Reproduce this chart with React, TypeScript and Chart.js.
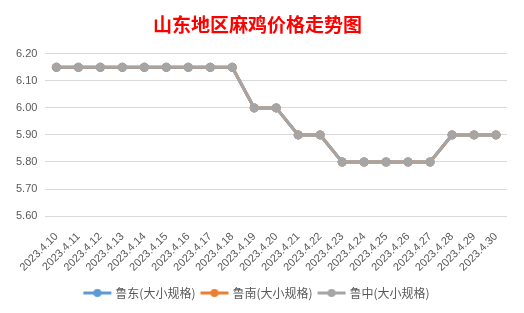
import React, { useEffect, useRef } from "react";
import { Chart, registerables } from "chart.js";

Chart.register(...registerables);

const categories = [
  "2023.4.10", "2023.4.11", "2023.4.12", "2023.4.13", "2023.4.14", "2023.4.15", "2023.4.16",
  "2023.4.17", "2023.4.18", "2023.4.19", "2023.4.20", "2023.4.21", "2023.4.22", "2023.4.23",
  "2023.4.24", "2023.4.25", "2023.4.26", "2023.4.27", "2023.4.28", "2023.4.29", "2023.4.30",
];
const ludong = [6.15, 6.15, 6.15, 6.15, 6.15, 6.15, 6.15, 6.15, 6.15, 6.0, 6.0, 5.9, 5.9, 5.8, 5.8, 5.8, 5.8, 5.8, 5.9, 5.9, 5.9];
const lunan = [6.15, 6.15, 6.15, 6.15, 6.15, 6.15, 6.15, 6.15, 6.15, 6.0, 6.0, 5.9, 5.9, 5.8, 5.8, 5.8, 5.8, 5.8, 5.9, 5.9, 5.9];
const luzhong = [6.15, 6.15, 6.15, 6.15, 6.15, 6.15, 6.15, 6.15, 6.15, 6.0, 6.0, 5.9, 5.9, 5.8, 5.8, 5.8, 5.8, 5.8, 5.9, 5.9, 5.9];
const seriesNames = ["鲁东(大小规格)", "鲁南(大小规格)", "鲁中(大小规格)"];
const seriesColors = ["#5B9BD5", "#ED7D31", "#A5A5A5"];
const titleText = "山东地区麻鸡价格走势图";
const yMin = 5.6;
const yMax = 6.2;
const yStep = 0.1;

function makeLegendIcon(color: string): HTMLCanvasElement {
  const c = document.createElement("canvas");
  c.width = 30;
  c.height = 10;
  const ctx = c.getContext("2d")!;
  ctx.strokeStyle = color;
  ctx.lineWidth = 3;
  ctx.beginPath();
  ctx.moveTo(1, 5);
  ctx.lineTo(29, 5);
  ctx.stroke();
  ctx.fillStyle = color;
  ctx.beginPath();
  ctx.arc(15, 5, 4, 0, Math.PI * 2);
  ctx.fill();
  return c;
}

export default function App() {
  const ref = useRef<HTMLCanvasElement>(null);

  useEffect(() => {
    if (!ref.current) return;
    const icons = seriesColors.map(makeLegendIcon);
    const values = [ludong, lunan, luzhong];
    const orders = [2, 1, 0];
    const chart = new Chart(ref.current, {
      type: "line",
      data: {
        labels: categories,
        datasets: values.map((v, i) => ({
          label: seriesNames[i],
          data: v,
          borderColor: seriesColors[i],
          backgroundColor: seriesColors[i],
          pointBackgroundColor: seriesColors[i],
          pointBorderColor: seriesColors[i],
          borderWidth: 3,
          pointRadius: 4.5,
          pointBorderWidth: 0,
          tension: 0,
          order: orders[i],
        })),
      },
      options: {
        animation: false,
        responsive: false,
        maintainAspectRatio: false,
        layout: { padding: { left: 5, right: 14, top: 0, bottom: 0 } },
        plugins: {
          tooltip: { enabled: false },
          title: {
            display: true,
            text: titleText,
            color: "#FF0000",
            font: { family: "'Noto Sans CJK SC'", size: 19, weight: "bold" },
            padding: { top: 10, bottom: 18 },
          },
          legend: {
            position: "bottom",
            labels: {
              usePointStyle: true,
              pointStyleWidth: 24,
              padding: 7,
              color: "#595959",
              font: { family: "'Noto Sans CJK SC'", size: 12 },
              generateLabels: (ch: any) => {
                const items = Chart.defaults.plugins.legend.labels.generateLabels(ch);
                items.sort((a: any, b: any) => a.datasetIndex - b.datasetIndex);
                return items.map((it: any) => ({ ...it, pointStyle: icons[it.datasetIndex] }));
              },
            },
          },
        },
        scales: {
          x: {
            offset: true,
            grid: { display: false },
            border: { display: false },
            ticks: {
              autoSkip: false,
              maxRotation: 45,
              minRotation: 45,
              color: "#595959",
              font: { family: "'Liberation Sans'", size: 11 },
              padding: 6,
            },
          },
          y: {
            min: yMin,
            max: yMax,
            grid: { color: "#D9D9D9", drawTicks: false },
            border: { display: false },
            ticks: {
              stepSize: yStep,
              padding: 8,
              color: "#595959",
              font: { family: "'Liberation Sans'", size: 11 },
              callback: (v: any) => Number(v).toFixed(2),
            },
          },
        },
      },
    });
    return () => chart.destroy();
  }, []);

  return (
    <div style={{ position: "relative", width: 524, height: 313, margin: -8, background: "#fff" }}>
      <div
        style={{
          position: "absolute",
          left: 2,
          top: 2,
          width: 518,
          height: 306,
          border: "1px solid #D9D9D9",
          background: "#fff",
        }}
      >
        <canvas ref={ref} width={518} height={306} style={{ display: "block" }} />
      </div>
    </div>
  );
}
